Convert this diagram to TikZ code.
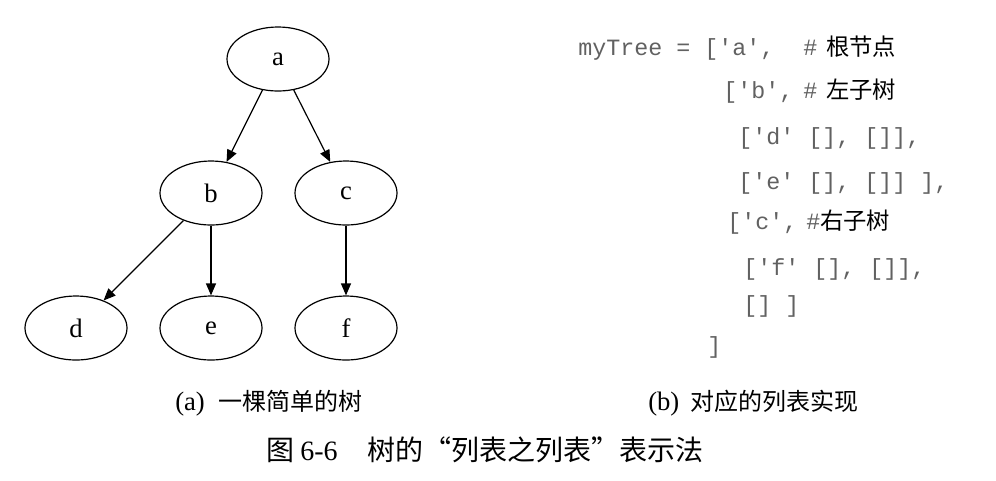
\documentclass[tikz,border=0pt]{standalone}
\usepackage{fontspec}
\setmainfont{Liberation Serif}
\setmonofont{Liberation Mono}
\newfontfamily\cjk{Noto Sans CJK SC}
\usetikzlibrary{shapes.geometric,arrows.meta}
\begin{document}
\begin{tikzpicture}[x=0.75pt,y=-0.75pt,
  tnode/.style={ellipse,draw,line width=0.9pt,minimum width=76.5pt,minimum height=48pt,inner sep=0pt,
    font=\fontsize{20}{20}\selectfont},
  tedge/.style={line width=0.9pt,-{Triangle[length=9pt,width=7.5pt]}},
  code/.style={anchor=base west,inner sep=0pt,font=\ttfamily\fontsize{17.5}{17.5}\selectfont,text=black!62},
  cmt/.style={anchor=base west,inner sep=0pt,font=\cjk\fontsize{17.5}{17.5}\selectfont},
  capl/.style={anchor=base west,inner sep=0pt,font=\fontsize{20}{20}\selectfont},
  capc/.style={anchor=base west,inner sep=0pt,font=\cjk\fontsize{18}{18}\selectfont},
  mainl/.style={anchor=base west,inner sep=0pt,font=\fontsize{21}{21}\selectfont},
  mainc/.style={anchor=base west,inner sep=0pt,font=\cjk\fontsize{21}{21}\selectfont}]
\useasboundingbox (0,0) rectangle (996,480);
% tree
\node[tnode] (a) at (278,59) {a};
\node[tnode] (b) at (211,193) {b};
\node[tnode] (c) at (346,193) {c};
\node[tnode] (d) at (76,328) {d};
\node[tnode] (e) at (211,328) {e};
\node[tnode] (f) at (346,328) {f};
\draw[tedge] (a) -- (b);
\draw[tedge] (a) -- (c);
\draw[tedge] (b) -- (d);
\draw[tedge] (b) -- (e);
\draw[tedge] (c) -- (f);
% code
\node[code] (l1) at (578,55) {myTree = ['a',};
\node[code] (h1) at (803,55) {\#};
\node[cmt]  (c1) at (826,55) {根节点};
\node[code] (l2) at (723,98) {['b',};
\node[code] (h2) at (803,98) {\#};
\node[cmt]  (c2) at (826,98) {左子树};
\node[code] (l3) at (738,144) {['d' [], []],};
\node[code] (l4) at (738,189) {['e' [], []] ],};
\node[code] (l5) at (727,229) {['c',};
\node[code] (h5) at (806,229) {\#};
\node[cmt]  (c5) at (820,229) {右子树};
\node[code] (l6) at (743,275) {['f' [], []],};
\node[code] (l7) at (743,312) {[] ]};
\node[code] (l8) at (707,353) {]};
% captions
\node[capl] (ca1) at (175,410) {(a)};
\node[capc] (ca2) at (218,410) {一棵简单的树};
\node[capl] (cb1) at (648,410) {(b)};
\node[capc] (cb2) at (690,410) {对应的列表实现};
\node[mainc] (m1) at (266,460) {图};
\node[mainl] (m2) at (300,460) {6-6};
\node[mainc] (m3) at (367,460) {树的“列表之列表”表示法};
\end{tikzpicture}
\end{document}
